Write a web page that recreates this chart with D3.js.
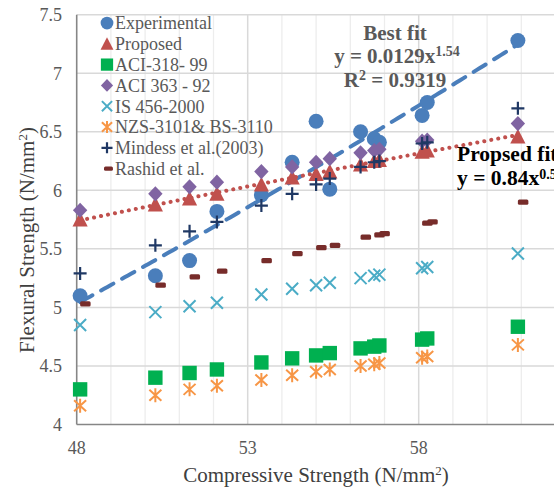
<!DOCTYPE html>
<html>
<head>
<meta charset="utf-8">
<script src="https://cdn.jsdelivr.net/npm/d3@7/dist/d3.min.js"></script>
<style>
  body { margin: 0; background: #fff; }
  svg text { font-family: "Liberation Serif", "Times New Roman", serif; }
</style>
</head>
<body>
<script>
// compressive strength of each specimen (shared by all series)
const strength = [48.1, 50.3, 51.3, 52.1, 53.4, 54.3, 55.0, 55.4, 56.3, 56.7, 56.85, 58.1, 58.25, 60.9];

const experimental = [5.10, 5.27, 5.40, 5.82, 5.96, 6.24, 6.59, 6.01, 6.50, 6.44, 6.41, 6.64, 6.75, 7.28];
const proposed     = [5.75, 5.88, 5.93, 5.97, 6.05, 6.11, 6.14, 6.16, 6.22, 6.25, 6.26, 6.33, 6.34, 6.46];
const aci318       = [4.30, 4.40, 4.44, 4.47, 4.53, 4.565, 4.59, 4.61, 4.65, 4.665, 4.675, 4.725, 4.735, 4.835];
const aci363       = [5.83, 5.97, 6.03, 6.07, 6.16, 6.20, 6.24, 6.27, 6.32, 6.34, 6.35, 6.42, 6.43, 6.57];
const is456        = [4.85, 4.96, 5.01, 5.04, 5.11, 5.16, 5.19, 5.21, 5.25, 5.27, 5.28, 5.335, 5.345, 5.46];
const nzs          = [4.16, 4.25, 4.30, 4.33, 4.38, 4.42, 4.45, 4.47, 4.50, 4.515, 4.525, 4.57, 4.58, 4.68];
const mindess      = [5.29, 5.53, 5.65, 5.73, 5.87, 5.97, 6.05, 6.10, 6.20, 6.24, 6.25, 6.40, 6.41, 6.70];
const rashid       = [5.03, 5.19, 5.26, 5.31, 5.40, 5.46, 5.51, 5.53, 5.60, 5.62, 5.63, 5.72, 5.73, 5.90];

const xTicks = [48, 53, 58];
const yTicks = [4, 4.5, 5, 5.5, 6, 6.5, 7, 7.5];

const width = 554, height = 488;

const svg = d3.select("body").append("svg")
    .attr("width", width)
    .attr("height", height);

const x = d3.scaleLinear().domain([48, 63]).range([76.7, 589.7]);
const y = d3.scaleLinear().domain([4, 7.5]).range([424.5, 14.7]);

// gridlines
const grid = svg.append('g');
grid.selectAll('line.vminor')
    .data(d3.range(49, 63).filter(v => (v - 48) % 5 != 0))
  .enter().append('line')
    .attr('x1', d => x(d)).attr('x2', d => x(d))
    .attr('y1', y(4)).attr('y2', y(7.5))
    .attr('stroke', '#ededed').attr('stroke-width', 1.3);
grid.selectAll('line.vmajor')
    .data(xTicks.slice(1))
  .enter().append('line')
    .attr('x1', d => x(d)).attr('x2', d => x(d))
    .attr('y1', y(4)).attr('y2', y(7.5))
    .attr('stroke', '#d9d9d9').attr('stroke-width', 1.5);
grid.selectAll('line.h')
    .data(yTicks.slice(1))
  .enter().append('line')
    .attr('x1', x(48)).attr('x2', width)
    .attr('y1', d => y(d)).attr('y2', d => y(d))
    .attr('stroke', '#d9d9d9').attr('stroke-width', 1.5);

// axes
svg.append('line').attr('x1', x(48)).attr('x2', x(48)).attr('y1', y(7.5)).attr('y2', y(4))
    .attr('stroke', '#868686').attr('stroke-width', 1.6);
svg.append('line').attr('x1', x(48)).attr('x2', width).attr('y1', y(4)).attr('y2', y(4))
    .attr('stroke', '#868686').attr('stroke-width', 1.6);

svg.selectAll('text.ytick')
    .data(yTicks)
  .enter().append('text')
    .attr('x', 62).attr('y', d => y(d))
    .attr('dy', '0.35em')
    .attr('text-anchor', 'end')
    .attr('font-size', 18).attr('fill', '#595959')
    .text(d => d);
svg.selectAll('text.xtick')
    .data(xTicks)
  .enter().append('text')
    .attr('x', d => x(d)).attr('y', 448)
    .attr('dy', '0.35em')
    .attr('text-anchor', 'middle')
    .attr('font-size', 18).attr('fill', '#595959')
    .text(d => d);

// axis titles
var xt = svg.append('text')
    .attr('x', 316).attr('y', 475).attr('dy', '0.35em')
    .attr('text-anchor', 'middle')
    .attr('font-size', 21).attr('fill', '#404040');
xt.append('tspan').text('Compressive Strength (N/mm');
xt.append('tspan').attr('font-size', 13).attr('dy', -7).text('2');
xt.append('tspan').attr('dy', 7).text(')');

var yt = svg.append('text')
    .attr('transform', 'translate(27,240) rotate(-90)')
    .attr('dy', '0.35em')
    .attr('text-anchor', 'middle')
    .attr('font-size', 21).attr('fill', '#404040');
yt.append('tspan').text('Flexural Strength (N/mm');
yt.append('tspan').attr('font-size', 13).attr('dy', -7).text('2');
yt.append('tspan').attr('dy', 7).text(')');

// power trendlines (least squares in log space, like Excel)
function powerFit(xs, ys) {
  const lx = xs.map(Math.log), ly = ys.map(Math.log);
  const mx = d3.mean(lx), my = d3.mean(ly);
  const b = d3.sum(lx, (v, i) => (v - mx) * (ly[i] - my)) / d3.sum(lx, v => (v - mx) * (v - mx));
  const a = Math.exp(my - b * mx);
  return v => a * Math.pow(v, b);
}
const line = d3.line().x(d => x(d[0])).y(d => y(d[1]));
function trend(vals, color, dash, w, cap) {
  const f = powerFit(strength, vals);
  const xs = d3.range(strength[0], d3.max(strength) + 0.001, 0.1);
  svg.append('path')
    .attr('d', line(xs.map(v => [v, f(v)])))
    .attr('fill', 'none')
    .attr('stroke', color)
    .attr('stroke-width', w)
    .attr('stroke-dasharray', dash)
    .attr('stroke-linecap', cap);
}
trend(experimental, '#4a7ebb', '14,10', 4, 'round');
trend(proposed, '#c0504d', '0.1,7', 4, 'round');

// marker painters
const markers = {
  circle: (g, s) => g.append('circle').attr('r', 7.5 * s).attr('fill', '#4a7ebb'),
  triangle: (g, s) => g.append('path').attr('d', `M0,${-7.8 * s}L${7.6 * s},${7 * s}L${-7.6 * s},${7 * s}Z`).attr('fill', '#c0504d'),
  square: (g, s) => g.append('rect').attr('x', -7.2 * s).attr('y', -7.2 * s).attr('width', 14.4 * s).attr('height', 14.4 * s).attr('fill', '#00b050'),
  diamond: (g, s) => g.append('path').attr('d', `M0,${-7.6 * s}L${7.2 * s},0L0,${7.6 * s}L${-7.2 * s},0Z`).attr('fill', '#8064a2'),
  cross: (g, s) => g.append('path').attr('d', `M${-6 * s},${-6 * s}L${6 * s},${6 * s}M${-6 * s},${6 * s}L${6 * s},${-6 * s}`)
      .attr('stroke', '#4bacc6').attr('stroke-width', 2).attr('fill', 'none'),
  star: (g, s) => g.append('path').attr('d', `M${-6 * s},${-5.5 * s}L${6 * s},${5.5 * s}M${-6 * s},${5.5 * s}L${6 * s},${-5.5 * s}M0,${-7 * s}L0,${7 * s}`)
      .attr('stroke', '#f79646').attr('stroke-width', 2).attr('fill', 'none'),
  plus: (g, s) => g.append('path').attr('d', `M${-6.5 * s},0L${6.5 * s},0M0,${-6.5 * s}L0,${6.5 * s}`)
      .attr('stroke', '#1f3864').attr('stroke-width', 2.2).attr('fill', 'none'),
  dash: (g, s) => g.append('rect').attr('x', 0).attr('y', -2.6 * s).attr('width', 10.5 * s).attr('height', 5.2 * s)
      .attr('rx', 1.5).attr('fill', '#772c2a')
};

const series = [
  {name: 'Experimental', vals: experimental, m: 'circle'},
  {name: 'Proposed', vals: proposed, m: 'triangle'},
  {name: 'ACI-318- 99', vals: aci318, m: 'square'},
  {name: 'ACI 363 - 92', vals: aci363, m: 'diamond'},
  {name: 'IS 456-2000', vals: is456, m: 'cross'},
  {name: 'NZS-3101& BS-3110', vals: nzs, m: 'star'},
  {name: 'Mindess et al.(2003)', vals: mindess, m: 'plus'},
  {name: 'Rashid et al.', vals: rashid, m: 'dash'}
];

series.forEach(s => {
  const g = svg.append('g');
  s.vals.forEach((v, i) => {
    const p = g.append('g').attr('transform', `translate(${x(strength[i])},${y(v)})`);
    markers[s.m](p, 1);
  });
});

// legend
const legend = svg.append('g');
series.forEach((s, i) => {
  const ly = 23 + i * 20.8;
  const p = legend.append('g').attr('transform', `translate(${s.m == 'dash' ? 104 : 107},${ly})`);
  markers[s.m](p, 0.85);
  legend.append('text')
    .attr('x', 115).attr('y', ly).attr('dy', '0.35em')
    .attr('font-size', 18).attr('fill', '#595959')
    .text(s.name);
});

// fit annotations
svg.append('text').attr('x', 395).attr('y', 33).attr('dy', '0.35em')
    .attr('text-anchor', 'middle').attr('font-size', 21).attr('font-weight', 'bold')
    .attr('fill', '#595959').text('Best fit');
var e1 = svg.append('text').attr('x', 397).attr('y', 56).attr('dy', '0.35em')
    .attr('text-anchor', 'middle').attr('font-size', 21).attr('font-weight', 'bold')
    .attr('fill', '#595959');
e1.append('tspan').text('y = 0.0129x');
e1.append('tspan').attr('font-size', 14).attr('dy', -7).text('1.54');
var e2 = svg.append('text').attr('x', 395).attr('y', 80).attr('dy', '0.35em')
    .attr('text-anchor', 'middle').attr('font-size', 21).attr('font-weight', 'bold')
    .attr('fill', '#595959');
e2.append('tspan').text('R');
e2.append('tspan').attr('font-size', 14).attr('dy', -7).text('2');
e2.append('tspan').attr('dy', 7).text(' = 0.9319');

svg.append('text').attr('x', 457).attr('y', 153).attr('dy', '0.35em')
    .attr('font-size', 21.5).attr('font-weight', 'bold')
    .attr('fill', '#000').text('Propsed fit');
var e3 = svg.append('text').attr('x', 457).attr('y', 177).attr('dy', '0.35em')
    .attr('font-size', 21.5).attr('font-weight', 'bold')
    .attr('fill', '#000');
e3.append('tspan').text('y = 0.84x');
e3.append('tspan').attr('font-size', 14).attr('dy', -6).text('0.5');
</script>
</body>
</html>
